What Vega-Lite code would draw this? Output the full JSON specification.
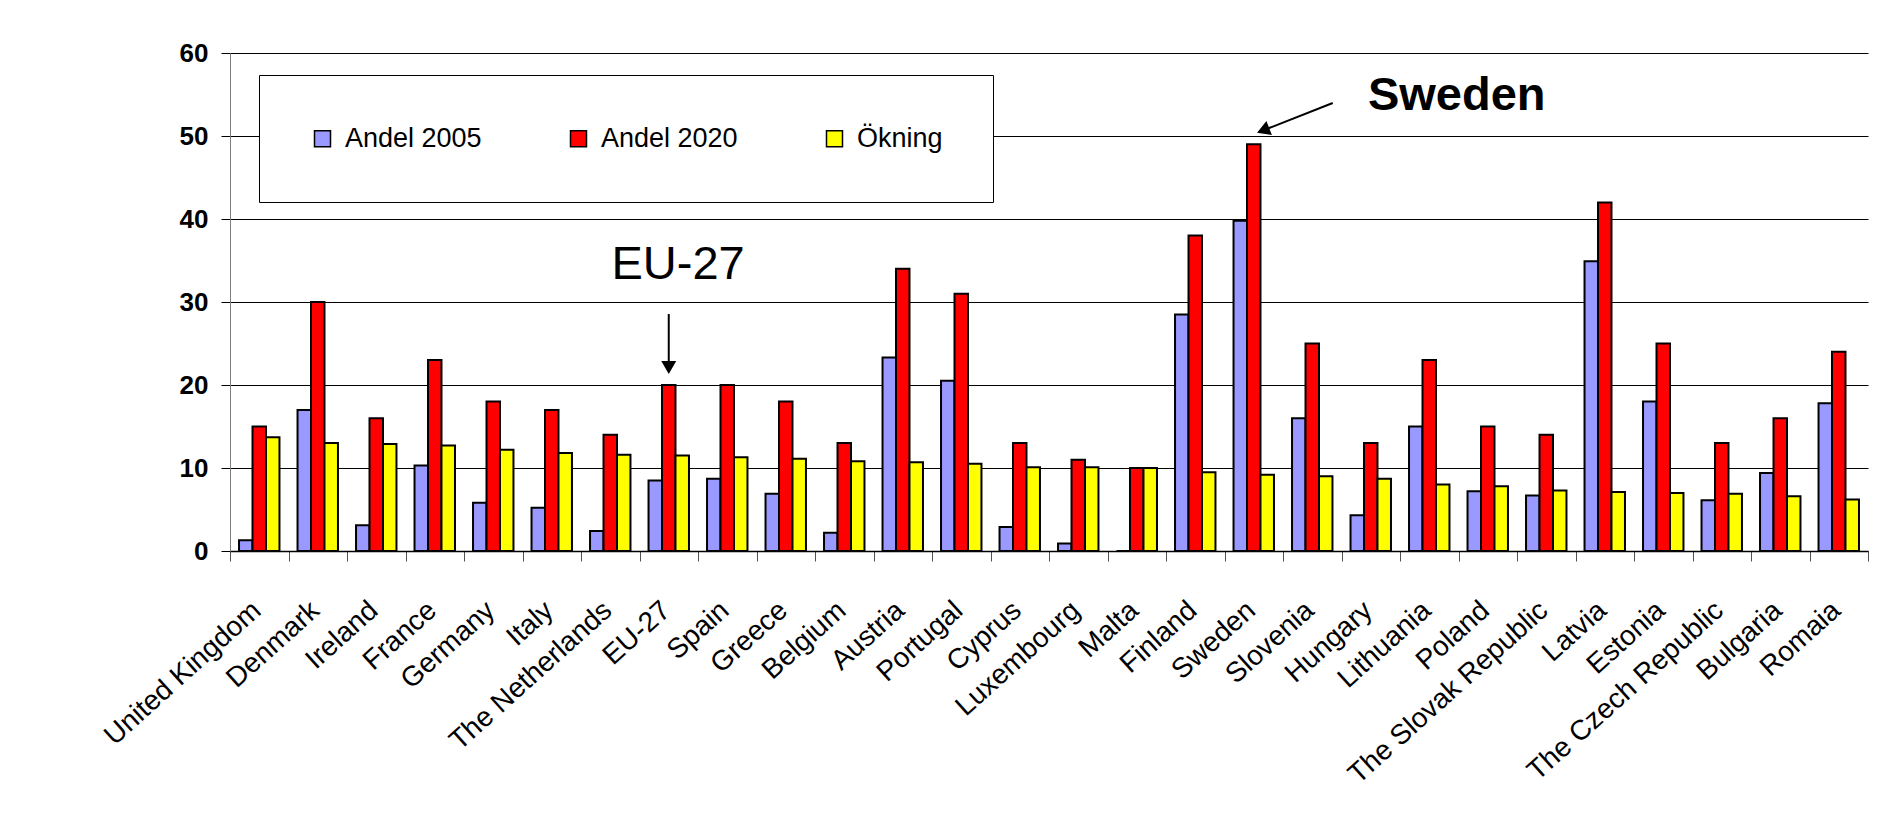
{
  "$schema": "https://vega.github.io/schema/vega-lite/v6.json",
  "width": 1638,
  "height": 498,
  "autosize": "none",
  "padding": {"left": 230, "top": 53, "right": 30, "bottom": 267},
  "background": "white",
  "config": {
    "font": "Liberation Sans",
    "view": {"stroke": null}
  },
  "layer": [
    {
      "data": {
        "values": [
          {"land": "United Kingdom", "Andel 2005": 1.3, "Andel 2020": 15, "Ökning": 13.7},
          {"land": "Denmark", "Andel 2005": 17.0, "Andel 2020": 30, "Ökning": 13.0},
          {"land": "Ireland", "Andel 2005": 3.1, "Andel 2020": 16, "Ökning": 12.9},
          {"land": "France", "Andel 2005": 10.3, "Andel 2020": 23, "Ökning": 12.7},
          {"land": "Germany", "Andel 2005": 5.8, "Andel 2020": 18, "Ökning": 12.2},
          {"land": "Italy", "Andel 2005": 5.2, "Andel 2020": 17, "Ökning": 11.8},
          {"land": "The Netherlands", "Andel 2005": 2.4, "Andel 2020": 14, "Ökning": 11.6},
          {"land": "EU-27", "Andel 2005": 8.5, "Andel 2020": 20, "Ökning": 11.5},
          {"land": "Spain", "Andel 2005": 8.7, "Andel 2020": 20, "Ökning": 11.3},
          {"land": "Greece", "Andel 2005": 6.9, "Andel 2020": 18, "Ökning": 11.1},
          {"land": "Belgium", "Andel 2005": 2.2, "Andel 2020": 13, "Ökning": 10.8},
          {"land": "Austria", "Andel 2005": 23.3, "Andel 2020": 34, "Ökning": 10.7},
          {"land": "Portugal", "Andel 2005": 20.5, "Andel 2020": 31, "Ökning": 10.5},
          {"land": "Cyprus", "Andel 2005": 2.9, "Andel 2020": 13, "Ökning": 10.1},
          {"land": "Luxembourg", "Andel 2005": 0.9, "Andel 2020": 11, "Ökning": 10.1},
          {"land": "Malta", "Andel 2005": 0, "Andel 2020": 10, "Ökning": 10.0},
          {"land": "Finland", "Andel 2005": 28.5, "Andel 2020": 38, "Ökning": 9.5},
          {"land": "Sweden", "Andel 2005": 39.8, "Andel 2020": 49, "Ökning": 9.2},
          {"land": "Slovenia", "Andel 2005": 16.0, "Andel 2020": 25, "Ökning": 9.0},
          {"land": "Hungary", "Andel 2005": 4.3, "Andel 2020": 13, "Ökning": 8.7},
          {"land": "Lithuania", "Andel 2005": 15.0, "Andel 2020": 23, "Ökning": 8.0},
          {"land": "Poland", "Andel 2005": 7.2, "Andel 2020": 15, "Ökning": 7.8},
          {"land": "The Slovak Republic", "Andel 2005": 6.7, "Andel 2020": 14, "Ökning": 7.3},
          {"land": "Latvia", "Andel 2005": 34.9, "Andel 2020": 42, "Ökning": 7.1},
          {"land": "Estonia", "Andel 2005": 18.0, "Andel 2020": 25, "Ökning": 7.0},
          {"land": "The Czech Republic", "Andel 2005": 6.1, "Andel 2020": 13, "Ökning": 6.9},
          {"land": "Bulgaria", "Andel 2005": 9.4, "Andel 2020": 16, "Ökning": 6.6},
          {"land": "Romaia", "Andel 2005": 17.8, "Andel 2020": 24, "Ökning": 6.2}
        ]
      },
      "transform": [
        {"fold": ["Andel 2005", "Andel 2020", "Ökning"], "as": ["serie", "andel"]}
      ],
      "mark": {"type": "bar", "stroke": "black", "strokeWidth": 2},
      "encoding": {
        "x": {
          "field": "land",
          "type": "nominal",
          "sort": null,
          "scale": {"paddingInner": 0, "paddingOuter": 0},
          "axis": {
            "title": null,
            "labelAngle": -42,
            "labelFontSize": 28,
            "labelColor": "black",
            "labelPadding": 35,
            "labelOffset": -12,
            "labelLimit": 400,
            "tickBand": "extent",
            "tickSize": 10,
            "tickColor": "#505050",
            "domainColor": "black",
            "domainWidth": 1.5
          }
        },
        "xOffset": {
          "field": "serie",
          "type": "nominal",
          "sort": ["Andel 2005", "Andel 2020", "Ökning"],
          "scale": {"paddingInner": 0, "paddingOuter": 0.67}
        },
        "y": {
          "field": "andel",
          "type": "quantitative",
          "scale": {"domain": [0, 60], "nice": false},
          "axis": {
            "title": null,
            "values": [0, 10, 20, 30, 40, 50, 60],
            "grid": true,
            "gridColor": "black",
            "gridWidth": 1,
            "domainColor": "#808080",
            "tickColor": "black",
            "tickSize": 9,
            "labelFontSize": 26,
            "labelFontWeight": "bold",
            "labelColor": "black",
            "labelPadding": 13
          }
        },
        "color": {
          "field": "serie",
          "type": "nominal",
          "scale": {
            "domain": ["Andel 2005", "Andel 2020", "Ökning"],
            "range": ["#9999FF", "#FF0000", "#FFFF00"]
          },
          "legend": {
            "title": null,
            "orient": "none",
            "legendX": 29,
            "legendY": 22,
            "direction": "horizontal",
            "columns": 3,
            "columnPadding": 83,
            "symbolType": "square",
            "symbolSize": 256,
            "symbolStrokeColor": "black",
            "symbolStrokeWidth": 1.5,
            "labelFontSize": 27,
            "labelColor": "black",
            "labelOffset": 9,
            "labelLimit": 300,
            "padding": 50,
            "strokeColor": "black",
            "fillColor": "white"
          }
        }
      }
    },
    {
      "layer": [
        {
          "data": {"values": [{"note": "EU-27", "pos": 7.66, "val": 34.5}]},
          "mark": {"type": "text", "fontSize": 47, "align": "center", "baseline": "middle", "color": "black"},
          "encoding": {
            "x": {"field": "pos", "type": "quantitative", "scale": {"domain": [0, 28], "nice": false, "zero": false}, "axis": null},
            "y": {"field": "val", "type": "quantitative", "scale": {"domain": [0, 60], "nice": false}, "axis": null},
            "text": {"field": "note"}
          }
        },
        {
          "data": {"values": [{"note": "Sweden", "pos": 20.97, "val": 54.8}]},
          "mark": {"type": "text", "fontSize": 47, "fontWeight": "bold", "align": "center", "baseline": "middle", "color": "black"},
          "encoding": {
            "x": {"field": "pos", "type": "quantitative", "scale": {"domain": [0, 28], "nice": false, "zero": false}, "axis": null},
            "y": {"field": "val", "type": "quantitative", "scale": {"domain": [0, 60], "nice": false}, "axis": null},
            "text": {"field": "note"}
          }
        },
        {
          "data": {
            "values": [
              {"pos": 7.5, "pos2": 7.5, "val": 28.55, "val2": 22.2},
              {"pos": 18.85, "pos2": 17.66, "val": 53.98, "val2": 50.67}
            ]
          },
          "mark": {"type": "rule", "color": "black", "strokeWidth": 2},
          "encoding": {
            "x": {"field": "pos", "type": "quantitative", "scale": {"domain": [0, 28], "nice": false, "zero": false}, "axis": null},
            "x2": {"field": "pos2"},
            "y": {"field": "val", "type": "quantitative", "scale": {"domain": [0, 60], "nice": false}, "axis": null},
            "y2": {"field": "val2"}
          }
        },
        {
          "data": {"values": [{"pos": 7.5, "val": 22.1}]},
          "mark": {"type": "point", "shape": "triangle-down", "size": 225, "filled": true, "color": "black", "opacity": 1},
          "encoding": {
            "x": {"field": "pos", "type": "quantitative", "scale": {"domain": [0, 28], "nice": false, "zero": false}, "axis": null},
            "y": {"field": "val", "type": "quantitative", "scale": {"domain": [0, 60], "nice": false}, "axis": null}
          }
        },
        {
          "data": {"values": [{"pos": 17.66, "val": 50.67}]},
          "mark": {"type": "point", "shape": "triangle-up", "angle": 248.5, "size": 225, "filled": true, "color": "black", "opacity": 1},
          "encoding": {
            "x": {"field": "pos", "type": "quantitative", "scale": {"domain": [0, 28], "nice": false, "zero": false}, "axis": null},
            "y": {"field": "val", "type": "quantitative", "scale": {"domain": [0, 60], "nice": false}, "axis": null}
          }
        }
      ]
    }
  ],
  "resolve": {"scale": {"x": "independent", "y": "independent"}}
}
